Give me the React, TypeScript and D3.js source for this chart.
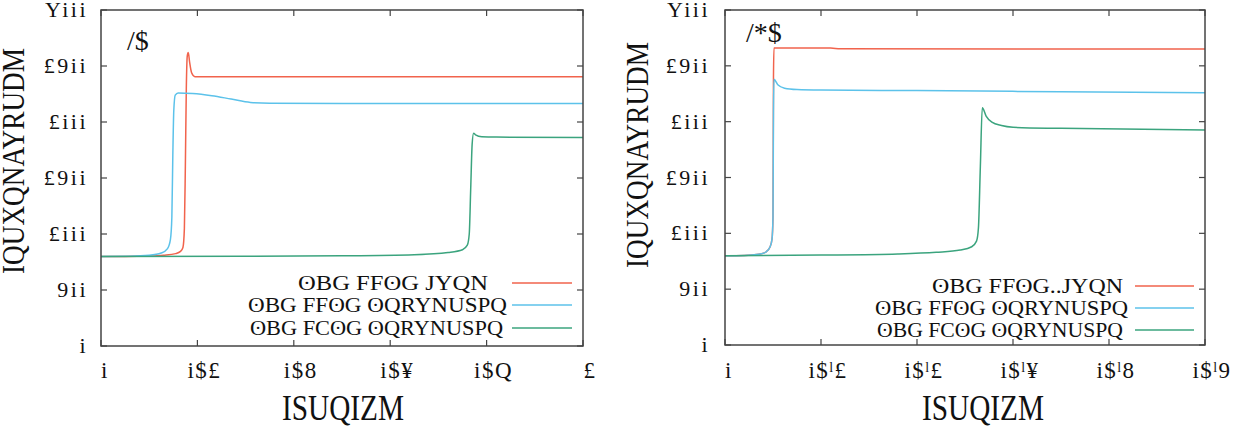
import React from "react";
import * as d3 from "d3";

// glyphs are kept as they appear in the reference picture
const yTicks = [0, 500, 1000, 1500, 2000, 2500, 3000];
const yTickLabels = ["i", "9ii", "£iii", "£9ii", "£iii", "£9ii", "Yiii"];

const xTicksA = [0, 0.2, 0.4, 0.6, 0.8, 1];
const xTickLabelsA = ["i", "i$£", "i$8", "i$¥", "i$Q", "£"];
const xTicksB = [0, 0.01, 0.02, 0.03, 0.04, 0.05];
const xTickLabelsB = ["i", "i$ˡ£", "i$ˡ£", "i$ˡ¥", "i$ˡ8", "i$ˡ9"];

const xTitle = "ISUQIZM";
const yTitle = "IQUXQNAYRUDM";
const panelLabels = ["/$", "/*$"];
const legendA = ["ʘBG FFʘG JYQN", "ʘBG FFʘG ʘQRYNUSPQ", "ʘBG FCʘG ʘQRYNUSPQ"];
const legendB = ["ʘBG FFʘG..JYQN", "ʘBG FFʘG ʘQRYNUSPQ", "ʘBG FCʘG ʘQRYNUSPQ"];

// panel (a)
const aRedX = [0, 0.05, 0.1, 0.13, 0.155, 0.165, 0.17, 0.173, 0.175, 0.177, 0.179, 0.181, 0.184, 0.188, 0.195, 0.3, 0.6, 1];
const aRedY = [800, 800, 803, 810, 825, 845, 880, 1050, 1600, 2300, 2590, 2620, 2530, 2440, 2405, 2405, 2405, 2405];
const aBlueX = [0, 0.06, 0.1, 0.125, 0.138, 0.144, 0.147, 0.149, 0.151, 0.154, 0.16, 0.19, 0.23, 0.27, 0.31, 0.35, 0.6, 1];
const aBlueY = [800, 802, 810, 830, 870, 950, 1150, 1700, 2100, 2240, 2260, 2255, 2235, 2205, 2175, 2168, 2165, 2165];
const aGreenX = [0, 0.3, 0.5, 0.65, 0.72, 0.75, 0.76, 0.764, 0.767, 0.77, 0.773, 0.777, 0.79, 0.82, 1];
const aGreenY = [800, 801, 805, 815, 835, 860, 900, 1000, 1400, 1800, 1900, 1885, 1868, 1865, 1862];

// panel (b)
const bRedX = [0, 0.002, 0.0035, 0.0043, 0.0047, 0.0049, 0.005, 0.00505, 0.0051, 0.011, 0.012, 0.05];
const bRedY = [800, 802, 812, 835, 880, 950, 1150, 2400, 2660, 2660, 2652, 2650];
const bBlueX = [0, 0.002, 0.0035, 0.0043, 0.0047, 0.0049, 0.005, 0.00505, 0.0051, 0.0055, 0.0062, 0.0075, 0.01, 0.02, 0.035, 0.05];
const bBlueY = [800, 802, 812, 835, 880, 950, 1150, 2100, 2380, 2330, 2300, 2288, 2283, 2278, 2268, 2258];
const bGreenX = [0, 0.01, 0.018, 0.022, 0.0245, 0.0257, 0.0262, 0.0264, 0.0266, 0.0268, 0.0272, 0.0278, 0.0288, 0.03, 0.035, 0.05];
const bGreenY = [800, 805, 815, 830, 850, 880, 930, 1050, 1600, 2125, 2050, 1995, 1965, 1950, 1940, 1925];

const colors = ["#f1634c", "#5cc2ea", "#3ba47e"];
const FONT = "'Liberation Serif', 'DejaVu Serif', serif";

type Panel = {
  left: number;
  right: number;
  top: number;
  bottom: number;
  domain: [number, number];
  xTicks: number[];
  xLabels: string[];
  series: [number[], number[]][];
  legend: string[];
  legendText: [number, number][];
  legendLine: [number, number];
  legendRows: number[];
  label: string;
  labelX: number;
  labelY: number;
  xTitleX: number;
  yTitleY: number;
  yTickRight: number;
};

const panels: Panel[] = [
  {
    left: 101, right: 583, top: 10, bottom: 346,
    domain: [0, 1],
    xTicks: xTicksA, xLabels: xTickLabelsA,
    series: [[aRedX, aRedY], [aBlueX, aBlueY], [aGreenX, aGreenY]],
    legend: legendA,
    legendText: [[298, 190], [248, 259], [250, 253]],
    legendLine: [512, 572],
    legendRows: [283, 305, 328],
    label: panelLabels[0], labelX: 127, labelY: 50,
    xTitleX: 343, yTitleY: 161, yTickRight: 88,
  },
  {
    left: 725, right: 1205, top: 10, bottom: 345,
    domain: [0, 0.05],
    xTicks: xTicksB, xLabels: xTickLabelsB,
    series: [[bRedX, bRedY], [bBlueX, bBlueY], [bGreenX, bGreenY]],
    legend: legendB,
    legendText: [[932, 191], [875, 253], [877, 246]],
    legendLine: [1135, 1194],
    legendRows: [286, 308, 330],
    label: panelLabels[1], labelX: 746, labelY: 42,
    xTitleX: 983, yTitleY: 155, yTickRight: 710,
  },
];

const ChartPanel = ({ p }: { p: Panel }) => {
  const x = d3.scaleLinear().domain(p.domain).range([p.left, p.right]);
  const y = d3.scaleLinear().domain([0, 3000]).range([p.bottom, p.top]);
  const line = d3
    .line<[number, number]>()
    .x((d) => x(d[0]))
    .y((d) => y(d[1]))
    .curve(d3.curveMonotoneX);
  const tick = 6;

  return (
    <g>
      {/* series */}
      {p.series.map(([xs, ys], i) => (
        <path
          key={i}
          d={line(xs.map((v, k) => [v, ys[k]] as [number, number])) || ""}
          fill="none"
          stroke={colors[i]}
          strokeWidth={1.5}
        />
      ))}

      {/* frame and mirrored ticks */}
      <rect
        x={p.left}
        y={p.top}
        width={p.right - p.left}
        height={p.bottom - p.top}
        fill="none"
        stroke="#444"
        strokeWidth={1.5}
      />
      {p.xTicks.map((t, i) => (
        <g key={"xt" + i}>
          <line x1={x(t)} x2={x(t)} y1={p.bottom} y2={p.bottom - tick} stroke="#444" strokeWidth={1.2} />
          <line x1={x(t)} x2={x(t)} y1={p.top} y2={p.top + tick} stroke="#444" strokeWidth={1.2} />
          <text
            x={x(t) + (i === 0 ? 4 : 7)}
            y={378}
            textAnchor="middle"
            fontFamily={FONT}
            fontSize={23}
            letterSpacing={1.5}
            fill="#111"
          >
            {p.xLabels[i]}
          </text>
        </g>
      ))}
      {yTicks.map((t, i) => (
        <g key={"yt" + i}>
          <line x1={p.left} x2={p.left + tick} y1={y(t)} y2={y(t)} stroke="#444" strokeWidth={1.2} />
          <line x1={p.right} x2={p.right - tick} y1={y(t)} y2={y(t)} stroke="#444" strokeWidth={1.2} />
          <text
            x={p.yTickRight}
            y={y(t) + 7}
            textAnchor="end"
            fontFamily={FONT}
            fontSize={22}
            letterSpacing={2.5}
            fill="#111"
          >
            {yTickLabels[i]}
          </text>
        </g>
      ))}

      {/* titles */}
      <text
        x={p.xTitleX}
        y={420}
        textAnchor="middle"
        fontFamily={FONT}
        fontSize={36}
        textLength={122}
        lengthAdjust="spacingAndGlyphs"
        fill="#111"
      >
        {xTitle}
      </text>
      <text
        transform={`translate(${p.left - 77},${p.yTitleY}) rotate(-90)`}
        textAnchor="middle"
        fontFamily={FONT}
        fontSize={31}
        textLength={226}
        lengthAdjust="spacingAndGlyphs"
        fill="#111"
      >
        {yTitle}
      </text>
      <text x={p.labelX} y={p.labelY} fontFamily={FONT} fontSize={28} fill="#111">
        {p.label}
      </text>

      {/* legend */}
      {p.legend.map((name, i) => (
        <g key={"lg" + i}>
          <text
            x={p.legendText[i][0]}
            y={p.legendRows[i] + 7}
            fontFamily={FONT}
            fontSize={22}
            textLength={p.legendText[i][1]}
            lengthAdjust="spacingAndGlyphs"
            fill="#111"
          >
            {name}
          </text>
          <line
            x1={p.legendLine[0]}
            x2={p.legendLine[1]}
            y1={p.legendRows[i]}
            y2={p.legendRows[i]}
            stroke={colors[i]}
            strokeWidth={1.5}
          />
        </g>
      ))}
    </g>
  );
};

const App = () => {
  return (
    <svg
      width={1243}
      height={432}
      style={{ position: "absolute", left: 0, top: 0, background: "#fff" }}
    >
      {panels.map((p, i) => (
        <ChartPanel key={i} p={p} />
      ))}
    </svg>
  );
};

export default App;
